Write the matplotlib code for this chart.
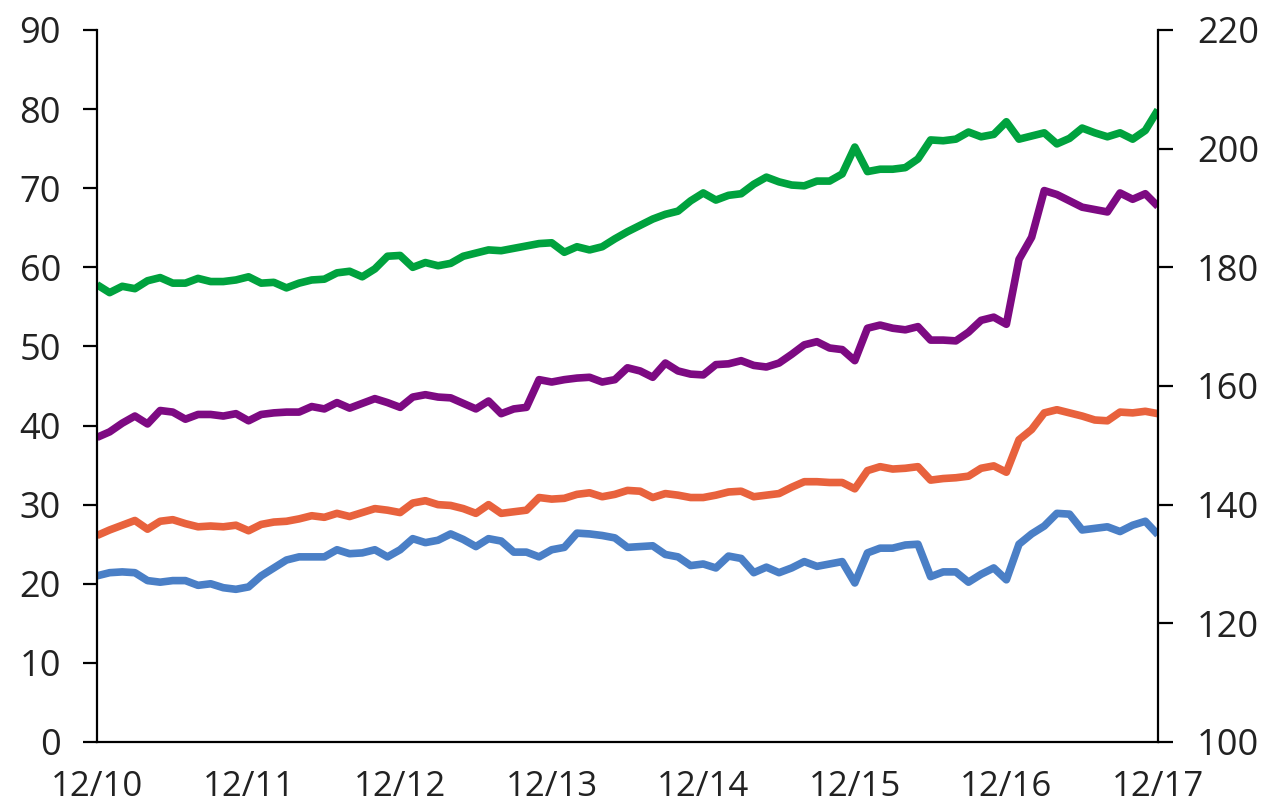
import numpy as np
import matplotlib
matplotlib.use('Agg')
import matplotlib.pyplot as plt

plt.rcParams['font.family'] = ['Open Sans', 'DejaVu Sans']

# monthly observations, 12/10 .. 12/17
year_labels = ['12/10', '12/11', '12/12', '12/13', '12/14', '12/15', '12/16', '12/17']

green = [57.8, 56.8, 57.6, 57.3, 58.3, 58.7, 58.0, 58.0, 58.6, 58.2, 58.2, 58.4,
         58.8, 58.0, 58.1, 57.4, 58.0, 58.4, 58.5, 59.3, 59.5, 58.8, 59.8, 61.4,
         61.5, 60.0, 60.6, 60.2, 60.5, 61.4, 61.8, 62.2, 62.1, 62.4, 62.7, 63.0,
         63.1, 61.9, 62.6, 62.2, 62.6, 63.6, 64.5, 65.3, 66.1, 66.7, 67.1, 68.4,
         69.4, 68.5, 69.1, 69.3, 70.5, 71.4, 70.8, 70.4, 70.3, 70.9, 70.9, 71.8,
         75.2, 72.1, 72.4, 72.4, 72.6, 73.7, 76.1, 76.0, 76.2, 77.1, 76.5, 76.8,
         78.4, 76.2, 76.6, 77.0, 75.6, 76.3, 77.6, 77.0, 76.5, 77.0, 76.2, 77.3,
         79.9]

purple = [38.5, 39.2, 40.3, 41.2, 40.2, 41.9, 41.7, 40.8, 41.4, 41.4, 41.2, 41.5,
          40.6, 41.4, 41.6, 41.7, 41.7, 42.4, 42.1, 42.9, 42.2, 42.8, 43.4, 42.9,
          42.3, 43.6, 43.9, 43.6, 43.5, 42.8, 42.1, 43.1, 41.5, 42.1, 42.3, 45.8,
          45.5, 45.8, 46.0, 46.1, 45.5, 45.8, 47.3, 46.9, 46.1, 47.9, 46.9, 46.5,
          46.4, 47.7, 47.8, 48.2, 47.6, 47.4, 47.9, 49.0, 50.2, 50.6, 49.8, 49.6,
          48.2, 52.3, 52.7, 52.3, 52.1, 52.5, 50.8, 50.8, 50.7, 51.8, 53.3, 53.7,
          52.8, 61.0, 63.8, 69.7, 69.2, 68.4, 67.6, 67.3, 67.0, 69.4, 68.6, 69.3,
          67.7]

orange = [26.1, 26.8, 27.4, 28.0, 26.9, 27.9, 28.1, 27.6, 27.2, 27.3, 27.2, 27.4,
          26.7, 27.5, 27.8, 27.9, 28.2, 28.6, 28.4, 28.9, 28.5, 29.0, 29.5, 29.3,
          29.0, 30.2, 30.5, 30.0, 29.9, 29.5, 28.9, 30.0, 28.9, 29.1, 29.3, 30.9,
          30.7, 30.8, 31.3, 31.5, 31.0, 31.3, 31.8, 31.7, 30.9, 31.4, 31.2, 30.9,
          30.9, 31.2, 31.6, 31.7, 31.0, 31.2, 31.4, 32.2, 32.9, 32.9, 32.8, 32.8,
          32.0, 34.3, 34.8, 34.5, 34.6, 34.8, 33.1, 33.3, 33.4, 33.6, 34.6, 34.9,
          34.1, 38.2, 39.5, 41.6, 42.0, 41.6, 41.2, 40.7, 40.6, 41.7, 41.6, 41.8,
          41.5]

blue = [21.0, 21.4, 21.5, 21.4, 20.4, 20.2, 20.4, 20.4, 19.8, 20.0, 19.5, 19.3,
        19.6, 21.0, 22.0, 23.0, 23.4, 23.4, 23.4, 24.3, 23.8, 23.9, 24.3, 23.4,
        24.3, 25.7, 25.2, 25.5, 26.3, 25.6, 24.7, 25.7, 25.4, 24.0, 24.0, 23.4,
        24.3, 24.6, 26.4, 26.3, 26.1, 25.8, 24.6, 24.7, 24.8, 23.7, 23.4, 22.3,
        22.5, 22.0, 23.5, 23.2, 21.4, 22.1, 21.4, 22.0, 22.8, 22.2, 22.5, 22.8,
        20.1, 23.9, 24.5, 24.5, 24.9, 25.0, 20.9, 21.5, 21.5, 20.2, 21.2, 22.0,
        20.5, 25.0, 26.3, 27.3, 28.9, 28.8, 26.8, 27.0, 27.2, 26.6, 27.4, 27.9,
        26.2]

months = np.arange(len(green))

fig = plt.figure(figsize=(12.68, 8.08), dpi=100)
ax = fig.add_axes([0.0765, 0.0817, 0.8367, 0.8812])

for series, col in [(green, '#00A23E'), (purple, '#7D0A82'),
                    (orange, '#E8623D'), (blue, '#4A7FC6')]:
    ax.plot(months, series, color=col, lw=5.5, solid_joinstyle='round',
            solid_capstyle='butt')

ax.set_xlim(0, 84)
ax.set_ylim(0, 90)
ax.set_yticks(np.arange(0, 91, 10))
ax.set_xticks(np.arange(0, 85, 12))
ax.set_xticklabels(year_labels)

for s in ['top', 'right']:
    ax.spines[s].set_visible(False)
for s in ['left', 'bottom']:
    ax.spines[s].set_linewidth(1.6)
ax.tick_params(axis='y', direction='out', length=10, width=1.6, pad=16,
               labelsize=26, labelcolor='#222222')
ax.tick_params(axis='x', length=0, pad=20, labelsize=25, labelcolor='#222222')

ax2 = ax.twinx()
ax2.set_ylim(100, 220)
ax2.set_yticks(np.arange(100, 221, 20))
for s in ['top', 'left', 'bottom']:
    ax2.spines[s].set_visible(False)
ax2.spines['right'].set_linewidth(1.6)
ax2.tick_params(axis='y', direction='out', length=11, width=1.6, pad=17,
                labelsize=26, labelcolor='#222222')

fig.savefig('out.png', dpi=100)
